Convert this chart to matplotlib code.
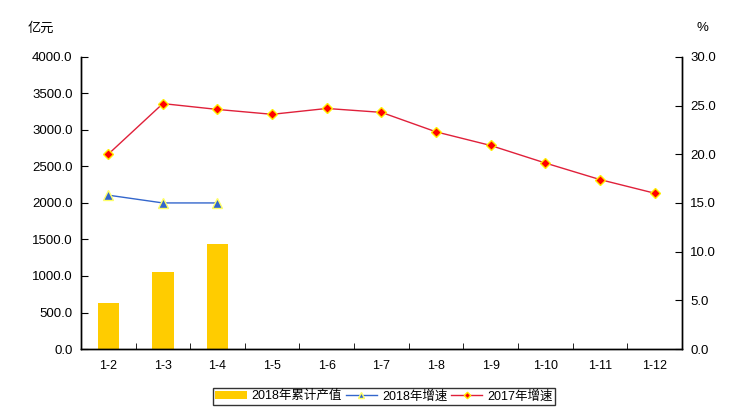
import numpy as np
import matplotlib.pyplot as plt

plt.rcParams['font.family'] = ['Liberation Sans', 'Noto Sans CJK SC', 'DejaVu Sans']

months = ['1-2', '1-3', '1-4', '1-5', '1-6', '1-7', '1-8', '1-9', '1-10', '1-11', '1-12']
output_2018 = [630, 1055, 1440]
growth_2018 = [15.8, 15.0, 15.0]
growth_2017 = [20.0, 25.2, 24.6, 24.1, 24.7, 24.3, 22.3, 20.9, 19.1, 17.4, 16.0]

fig = plt.figure(figsize=(7.56, 4.18), dpi=100)
ax = fig.add_axes([0.107, 0.165, 0.795, 0.699])
ax2 = ax.twinx()

x = np.arange(len(months))
b = ax.bar(x[:len(output_2018)], output_2018, width=0.39, color='#FFCC00', label='2018年累计产值', zorder=2)
l1, = ax2.plot(x[:len(growth_2018)], growth_2018, color='#3366CC', linewidth=1,
               marker='^', markersize=7, markerfacecolor='#3366CC', markeredgecolor='#FFFF66',
               markeredgewidth=1, label='2018年增速')
l2, = ax2.plot(x, growth_2017, color='#E0203A', linewidth=1,
               marker='D', markersize=5.5, markerfacecolor='#FF0000', markeredgecolor='#FFEE00',
               markeredgewidth=1, label='2017年增速')

ax.set_xlim(-0.5, len(months) - 0.5)
ax.set_ylim(0, 4000)
ax2.set_ylim(0, 30)
ax.set_yticks(np.arange(0, 4001, 500))
ax.set_yticklabels(['%.1f' % v for v in np.arange(0, 4001, 500)])
ax2.set_yticks(np.arange(0, 31, 5))
ax2.set_yticklabels(['%.1f' % v for v in np.arange(0, 31, 5)])
ax.set_xticks(x)
ax.set_xticklabels(months)
ax.set_xticks(np.arange(0.5, len(months) - 0.5, 1), minor=True)

for a in (ax, ax2):
    a.spines['top'].set_visible(False)
    for s in a.spines.values():
        s.set_linewidth(1)
ax.tick_params(axis='x', which='major', length=0, labelsize=9, pad=8)
ax.tick_params(axis='x', which='minor', direction='in', length=4)
ax.tick_params(axis='y', direction='in', length=5, labelsize=9.5, pad=6)
ax2.tick_params(axis='y', direction='in', length=5, labelsize=9.5, pad=6)

fig.text(0.037, 0.925, '亿元', fontsize=9.5)
fig.text(0.921, 0.925, '%', fontsize=9.5)

leg = fig.legend([b, l1, l2], ['2018年累计产值', '2018年增速', '2017年增速'],
                 loc='center', bbox_to_anchor=(0.508, 0.052), ncol=3, fontsize=9,
                 frameon=True, fancybox=False, edgecolor='black', handlelength=2.5,
                 handletextpad=0.4, columnspacing=0.3, borderpad=0.2, markerscale=0.6)
leg.get_frame().set_linewidth(1)

fig.savefig('out.png', dpi=100)
